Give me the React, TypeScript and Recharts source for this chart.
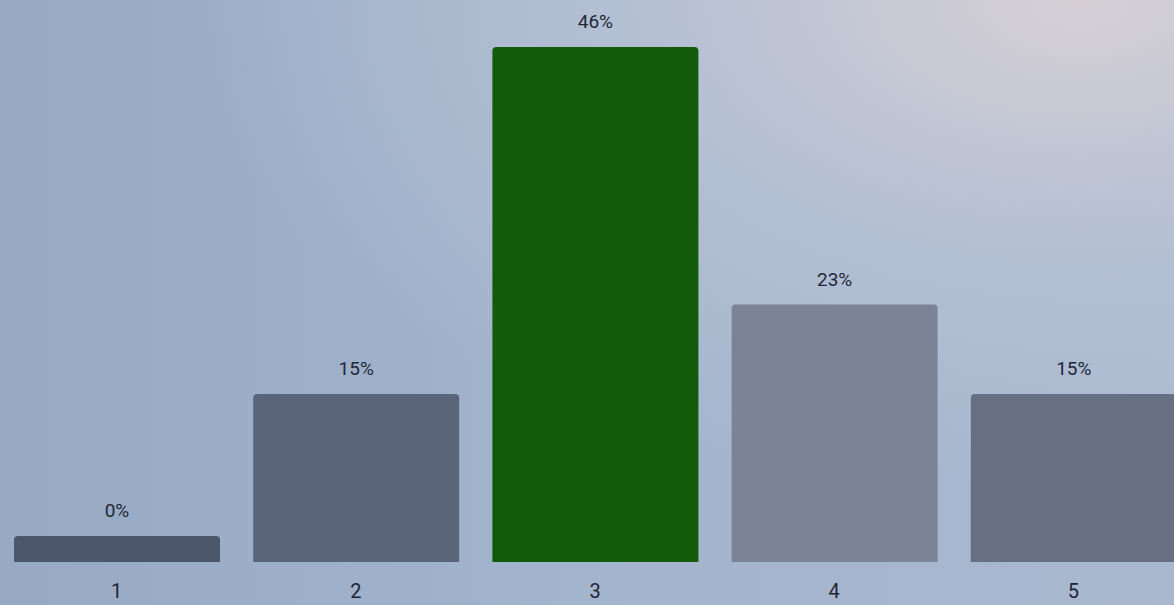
import { BarChart, Bar, XAxis, YAxis, Cell, LabelList } from "recharts";

const categories = ["1", "2", "3", "4", "5"];
const percents = [0, 15, 46, 23, 15];
const barColors = ["#4c576b", "#5a657a", "#135a0b", "#7b8397", "#676f82"];

export default function App() {
  const data = categories.map((c, i) => ({ name: c, value: percents[i] }));

  return (
    <div
      style={{
        position: "fixed",
        left: 0,
        top: 0,
        width: 1174,
        height: 605,
        overflow: "hidden",
        background:
          "radial-gradient(ellipse at 92% 0%, #d6d0d6 0%, #b5c0d3 28%, rgba(160,176,200,0) 58%), linear-gradient(90deg, #97a9c3 0%, #a3b4cd 50%, #a9b8cf 100%)",
        fontFamily: "Roboto, 'Noto Sans', sans-serif",
      }}
    >
      <div style={{ position: "absolute", left: -3, top: 0 }}>
        <BarChart
          width={1196}
          height={605}
          data={data}
          margin={{ top: 47, right: 0, bottom: 0, left: 0 }}
        >
          <XAxis
            dataKey="name"
            height={43}
            axisLine={false}
            tickLine={false}
            tickMargin={16}
            tick={{ fontSize: 20, fill: "#1f2535" }}
          />
          <YAxis hide domain={[0, 46]} />
          <Bar
            dataKey="value"
            barSize={206}
            minPointSize={26}
            radius={[4, 4, 0, 0]}
            isAnimationActive={false}
          >
            {data.map((d, i) => (
              <Cell key={d.name} fill={barColors[i]} />
            ))}
            <LabelList
              dataKey="value"
              position="top"
              offset={19}
              formatter={(v: number) => `${v}%`}
              style={{ fontSize: 19, fill: "#222838" }}
            />
          </Bar>
        </BarChart>
      </div>
    </div>
  );
}
